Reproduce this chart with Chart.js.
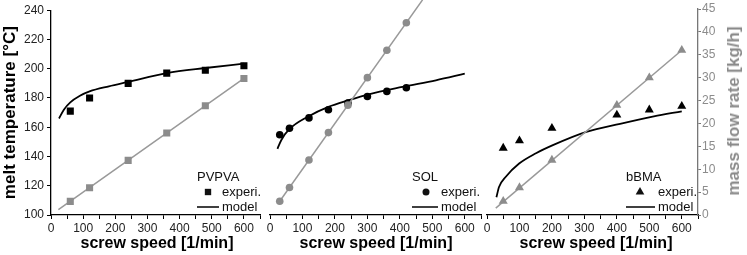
<!DOCTYPE html>
<html>
<head>
<meta charset="utf-8">
<script src="https://cdn.jsdelivr.net/npm/chart.js@4"></script>
<style>
  body { margin: 0; background: #fff; }
  #wrap { position: relative; width: 747px; height: 255px; }
  #wrap canvas { position: absolute; left: 0; top: 0; }
  .xTitle {
    position: absolute; top: 243px; transform: translate(-50%, -50%);
    white-space: nowrap; font: bold 16px "Liberation Sans", Arial, sans-serif; color: #000;
  }
  #flowTitle {
    position: absolute; left: 734px; top: 111px;
    transform: translate(-50%, -50%) rotate(-90deg);
    white-space: nowrap; font: bold 17px "Liberation Sans", Arial, sans-serif; color: #8a8a8a;
  }
</style>
</head>
<body>
<div id="wrap">
  <canvas id="c1" width="747" height="255"></canvas>
  <canvas id="c2" width="747" height="255"></canvas>
  <canvas id="c3" width="747" height="255"></canvas>
  <div class="xTitle" style="left:157px">screw speed [1/min]</div>
  <div class="xTitle" style="left:376px">screw speed [1/min]</div>
  <div class="xTitle" style="left:596px">screw speed [1/min]</div>
  <div id="flowTitle">mass flow rate [kg/h]</div>
</div>
<script>
// PVPVA
const speedPVPVA = [60, 120, 240, 360, 480, 600];
const tempPVPVA = [171, 180, 190, 197, 199, 202];
const flowPVPVA = [3, 6, 12, 18, 24, 30];
const modelSpeedPVPVA = [25, 40, 60, 90, 120, 180, 240, 360, 480, 600];
const modelTempPVPVA = [166, 172, 177, 181.5, 184.5, 188, 191, 197, 200.5, 203.5];
const fitSpeedPVPVA = [23, 600];
const fitFlowPVPVA = [1.2, 30];

// SOL
const speedSOL = [30, 60, 120, 180, 240, 300, 360, 420];
const tempSOL = [154.5, 159, 166, 171.5, 176, 180.5, 184, 186.5];
const flowSOL = [3, 6, 12, 18, 24, 30, 36, 42];
const modelSpeedSOL = [23, 35, 58, 118, 180, 242, 304, 408, 511, 600];
const modelTempSOL = [145, 151, 158, 167, 173.5, 178, 182, 187, 191.5, 196];
const fitSpeedSOL = [30, 470];
const fitFlowSOL = [3, 47];

// bBMA
const speedBBMA = [50, 100, 200, 400, 500, 600];
const tempBBMA = [145.5, 150.5, 159, 168, 171.5, 174];
const flowBBMA = [3, 6, 12, 24, 30, 36];
const modelSpeedBBMA = [29, 37, 58, 99, 151, 203, 306, 410, 514, 600];
const modelTempBBMA = [112, 119, 126, 135, 142, 147.5, 156.5, 162, 167, 170.5];
const fitSpeedBBMA = [27, 600];
const fitFlowBBMA = [1.5, 36];

const xTicks = [0, 100, 200, 300, 400, 500, 600];
const tempTicks = [100, 120, 140, 160, 180, 200, 220, 240];
const flowTicks = [0, 5, 10, 15, 20, 25, 30, 35, 40, 45];

Chart.defaults.font.family = '"Liberation Sans", Arial, sans-serif';
Chart.defaults.animation = false;

const GREY = '#8c8c8c';
const pts = (xs, ys) => xs.map((x, i) => ({ x: x, y: ys[i] }));

// small legend in the lower right corner of each panel
const panelLegend = {
  id: 'panelLegend',
  afterDatasetsDraw(chart, args, o) {
    const ctx = chart.ctx;
    const b = chart.chartArea.bottom;
    ctx.save();
    ctx.font = '13px "Liberation Sans", Arial, sans-serif';
    ctx.fillStyle = '#111';
    ctx.textBaseline = 'middle';
    ctx.fillText(o.name, o.x0, b - 38);
    ctx.fillText('experi.', o.tx, b - 23);
    ctx.fillText('model', o.tx, b - 8);
    Chart.helpers.drawPoint(ctx, { pointStyle: o.marker, radius: o.radius, borderWidth: 0, rotation: 0 }, o.mx, b - 23);
    ctx.strokeStyle = '#000';
    ctx.lineWidth = 1.5;
    ctx.beginPath();
    ctx.moveTo(o.x0, b - 8);
    ctx.lineTo(o.tx - 3, b - 8);
    ctx.stroke();
    ctx.restore();
  }
};

function makePanel(id, p) {
  new Chart(document.getElementById(id), {
    type: 'scatter',
    plugins: [panelLegend],
    data: {
      datasets: [
        { data: pts(p.speed, p.flow), yAxisID: 'y2', pointStyle: p.marker, pointRadius: p.radius,
          backgroundColor: GREY, borderWidth: 0, showLine: false },
        { data: pts(p.fitSpeed, p.fitFlow), yAxisID: 'y2', showLine: true, pointRadius: 0,
          borderColor: '#999', borderWidth: 1.5, clip: false },
        { data: pts(p.speed, p.temp), yAxisID: 'y', pointStyle: p.marker, pointRadius: p.radius,
          backgroundColor: '#000', borderWidth: 0, showLine: false },
        { data: pts(p.modelSpeed, p.modelTemp), yAxisID: 'y', showLine: true, pointRadius: 0,
          borderColor: '#000', borderWidth: 1.8, cubicInterpolationMode: 'monotone' }
      ]
    },
    options: {
      responsive: false,
      layout: { padding: { left: p.padL, right: p.padR, top: 9, bottom: 0 } },
      plugins: {
        legend: { display: false },
        tooltip: { enabled: false },
        panelLegend: p.legend
      },
      scales: {
        x: {
          type: 'linear', min: 0, max: 650,
          ticks: { stepSize: 50, autoSkip: false, maxRotation: 0, color: '#222', font: { size: 12 }, padding: 2,
            callback: v => xTicks.includes(v) ? v : '' },
          grid: { drawOnChartArea: false, tickLength: 4, color: '#000' },
          border: { color: '#000', width: 1.3 },
          afterFit: s => { s.height = 40; }
        },
        y: {
          display: p.showTemp, position: 'left', min: 100, max: 240,
          ticks: { stepSize: 10, color: '#222', font: { size: 12 }, padding: 3,
            callback: v => tempTicks.includes(v) ? v : '' },
          grid: { drawOnChartArea: false, tickLength: 4, color: '#000' },
          border: { color: '#000', width: 1.3 },
          title: { display: true, text: 'melt temperature [°C]', color: '#000',
            font: { size: 17, weight: 'bold' }, padding: { top: 0, bottom: 0 } },
          afterFit: s => { s.width = p.showTemp ? 51 : 0; }
        },
        y2: {
          display: p.showFlow, position: 'right', min: 0, max: 45,
          ticks: { stepSize: 2.5, color: GREY, font: { size: 12 }, padding: 1,
            callback: v => flowTicks.includes(v) ? v : '' },
          grid: { drawOnChartArea: false, tickLength: 3, color: '#777' },
          border: { color: '#777', width: 1.3 },
          afterFit: s => { s.width = p.showFlow ? 49 : 0; }
        }
      }
    }
  });
}

makePanel('c1', {
  speed: speedPVPVA, temp: tempPVPVA, flow: flowPVPVA,
  modelSpeed: modelSpeedPVPVA, modelTemp: modelTempPVPVA,
  fitSpeed: fitSpeedPVPVA, fitFlow: fitFlowPVPVA,
  marker: 'rect', radius: 5, padL: 0, padR: 487, showTemp: true, showFlow: false,
  legend: { name: 'PVPVA', marker: 'rect', radius: 4.5, x0: 197, mx: 208, tx: 222 }
});
makePanel('c2', {
  speed: speedSOL, temp: tempSOL, flow: flowSOL,
  modelSpeed: modelSpeedSOL, modelTemp: modelTempSOL,
  fitSpeed: fitSpeedSOL, fitFlow: fitFlowSOL,
  marker: 'circle', radius: 3.8, padL: 270, padR: 266, showTemp: false, showFlow: false,
  legend: { name: 'SOL', marker: 'circle', radius: 3.5, x0: 412, mx: 426, tx: 441 }
});
makePanel('c3', {
  speed: speedBBMA, temp: tempBBMA, flow: flowBBMA,
  modelSpeed: modelSpeedBBMA, modelTemp: modelTempBBMA,
  fitSpeed: fitSpeedBBMA, fitFlow: fitFlowBBMA,
  marker: 'triangle', radius: 5.2, padL: 487, padR: 0, showTemp: false, showFlow: true,
  legend: { name: 'bBMA', marker: 'triangle', radius: 5, x0: 626, mx: 640, tx: 658 }
});
</script>
</body>
</html>
